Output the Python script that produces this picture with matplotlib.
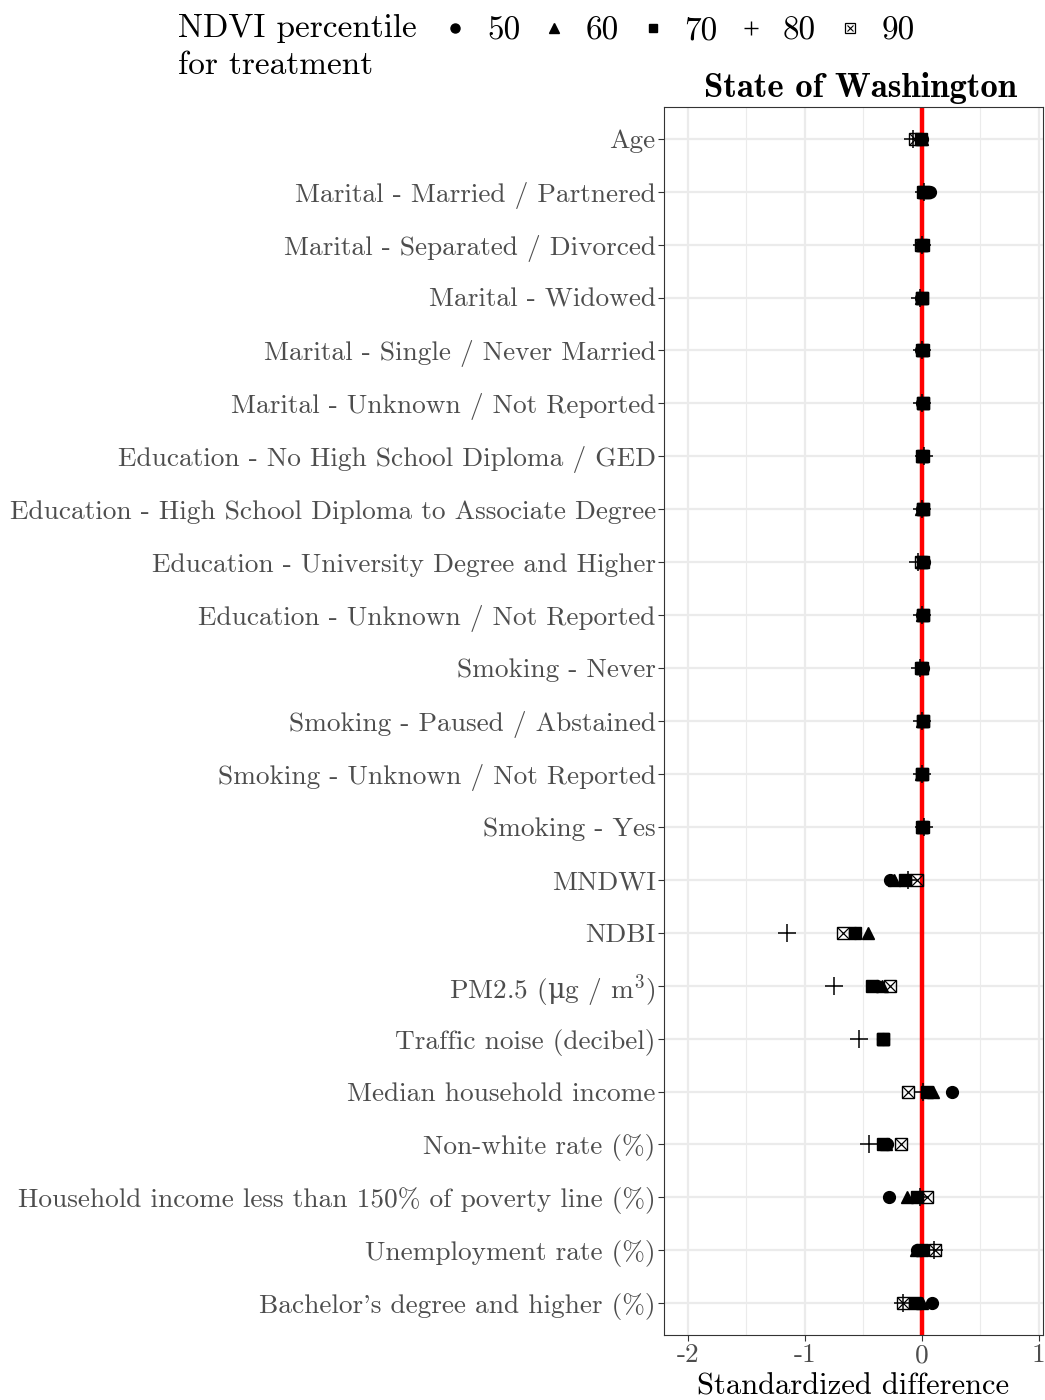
import matplotlib
matplotlib.use("Agg")
import matplotlib.pyplot as plt
from matplotlib.lines import Line2D
from matplotlib.legend_handler import HandlerTuple
import numpy as np

plt.rcParams['font.family'] = ['cmr10', 'DejaVu Serif']
plt.rcParams['axes.unicode_minus'] = False
plt.rcParams['mathtext.fontset'] = 'custom'
plt.rcParams['mathtext.rm'] = 'cmr10'
plt.rcParams['mathtext.it'] = 'cmmi10'
plt.rcParams['mathtext.sf'] = 'DejaVu Serif'
plt.rcParams['mathtext.fallback'] = 'stix'

covariates = [
    "Age",
    "Marital - Married / Partnered",
    "Marital - Separated / Divorced",
    "Marital - Widowed",
    "Marital - Single / Never Married",
    "Marital - Unknown / Not Reported",
    "Education - No High School Diploma / GED",
    "Education - High School Diploma to Associate Degree",
    "Education - University Degree and Higher",
    "Education - Unknown / Not Reported",
    "Smoking - Never",
    "Smoking - Paused / Abstained",
    "Smoking - Unknown / Not Reported",
    "Smoking - Yes",
    "MNDWI",
    "NDBI",
    r"PM2.5 ($\mathsf{\mu}$g / m$^{3}$)",
    "Traffic noise (decibel)",
    "Median household income",
    "Non-white rate (%)",
    "Household income less than 150% of poverty line (%)",
    "Unemployment rate (%)",
    "Bachelor's degree and higher (%)",
]

percentiles = ["50", "60", "70", "80", "90"]

smd_p50 = [0.00, 0.07, -0.01, -0.01, -0.01, 0.00, 0.01, 0.00, 0.02, 0.00, 0.01, 0.01, 0.00, 0.01,
           -0.27, -0.57, -0.38, -0.33, 0.255, -0.30, -0.28, -0.04, 0.09]
smd_p60 = [0.00, 0.03, 0.00, -0.01, 0.00, 0.01, 0.00, -0.01, 0.00, 0.00, 0.00, 0.00, -0.01, 0.00,
           -0.24, -0.46, -0.34, -0.33, 0.095, -0.31, -0.13, -0.05, 0.00]
smd_p70 = [-0.01, 0.02, 0.01, 0.00, 0.01, 0.01, 0.01, 0.01, 0.01, 0.01, 0.00, 0.01, 0.00, 0.01,
           -0.145, -0.57, -0.43, -0.33, 0.04, -0.33, -0.045, 0.00, -0.06]
smd_p80 = [-0.08, 0.02, 0.00, -0.02, 0.00, 0.00, 0.02, 0.00, -0.03, 0.00, -0.02, 0.00, 0.00, 0.02,
           -0.12, -1.15, -0.75, -0.54, 0.01, -0.45, -0.02, 0.10, -0.16]
smd_p90 = [-0.06, 0.01, -0.01, 0.00, 0.00, 0.01, 0.00, 0.01, -0.01, 0.01, -0.01, 0.01, 0.00, 0.00,
           -0.04, -0.675, -0.27, -0.33, -0.12, -0.18, 0.045, 0.11, -0.16]

x_ticks = [-2, -1, 0, 1]

fig = plt.figure(figsize=(10.45, 14), dpi=100)
ax = fig.add_axes([0.6354, 0.0464, 0.998 - 0.6354, 0.9236 - 0.0464])

y = np.arange(len(covariates))

# panel styling (light grid, dark border)
ax.set_facecolor("white")
for s in ax.spines.values():
    s.set_color("#333333")
    s.set_linewidth(0.8)
ax.set_xlim(-2.205, 1.035)
ax.set_ylim(len(covariates) - 0.4, -0.6)
ax.set_xticks(x_ticks)
ax.set_xticklabels([str(t) for t in x_ticks])
ax.set_xticks([-1.5, -0.5, 0.5], minor=True)
ax.set_yticks(y)
ax.set_yticklabels(covariates)
ax.grid(True, which="major", color="#EBEBEB", linewidth=1.6)
ax.grid(True, which="minor", axis="x", color="#EBEBEB", linewidth=0.8)
ax.set_axisbelow(True)
ax.tick_params(axis="both", which="major", length=4, width=0.8, color="#333333",
               labelsize=19.65, labelcolor="#4D4D4D", pad=2)
ax.tick_params(axis="both", which="minor", length=0)

ax.axvline(0, color="#FF0000", linewidth=3.2, zorder=2)

ms = 8.5
ax.plot(smd_p50, y, linestyle="none", marker="o", markersize=ms, color="black", zorder=3)
ax.plot(smd_p60, y, linestyle="none", marker="^", markersize=ms + 0.5, color="black", zorder=3)
ax.plot(smd_p70, y, linestyle="none", marker="s", markersize=ms - 0.5, color="black", zorder=3)
ax.plot(smd_p80, y, linestyle="none", marker="+", markersize=ms + 4, markeredgewidth=1.1,
        color="black", zorder=3)
ax.plot(smd_p90, y, linestyle="none", marker="s", markersize=ms + 0.5, markerfacecolor="none",
        markeredgecolor="black", markeredgewidth=1.0, zorder=3)
ax.plot(smd_p90, y, linestyle="none", marker="x", markersize=ms - 0.5, markeredgewidth=0.9,
        color="black", zorder=3)

ax.set_xlabel("Standardized difference", fontsize=22, color="black", labelpad=4)
ax.set_title("State of Washington", fontsize=25, fontfamily=["cmb10", "DejaVu Serif"],
             color="black", pad=7, x=0.518)

# legend across the top
lm = 6.5
handles = [
    Line2D([], [], linestyle="none", marker="o", markersize=lm, color="black"),
    Line2D([], [], linestyle="none", marker="^", markersize=lm + 0.5, color="black"),
    Line2D([], [], linestyle="none", marker="s", markersize=lm - 0.5, color="black"),
    Line2D([], [], linestyle="none", marker="+", markersize=lm + 3, markeredgewidth=1.0, color="black"),
    (Line2D([], [], linestyle="none", marker="s", markersize=lm, markerfacecolor="none",
            markeredgecolor="black", markeredgewidth=0.9),
     Line2D([], [], linestyle="none", marker="x", markersize=lm - 1.5, markeredgewidth=0.8,
            color="black")),
]
fig.text(178 / 1045, 1 - 14 / 1400, "NDVI percentile\nfor treatment", fontsize=24,
         ha="left", va="top", linespacing=1.35, transform=fig.transFigure)
fig.legend(handles, percentiles, ncol=5, loc="center left",
           bbox_to_anchor=(442 / 1045, 1 - 31 / 1400), frameon=False, fontsize=24,
           handlelength=0.8, handletextpad=0.56, columnspacing=0.6, borderaxespad=0,
           borderpad=0,
           handler_map={tuple: HandlerTuple(ndivide=1, pad=0)})

fig.savefig("out.png", dpi=100)
